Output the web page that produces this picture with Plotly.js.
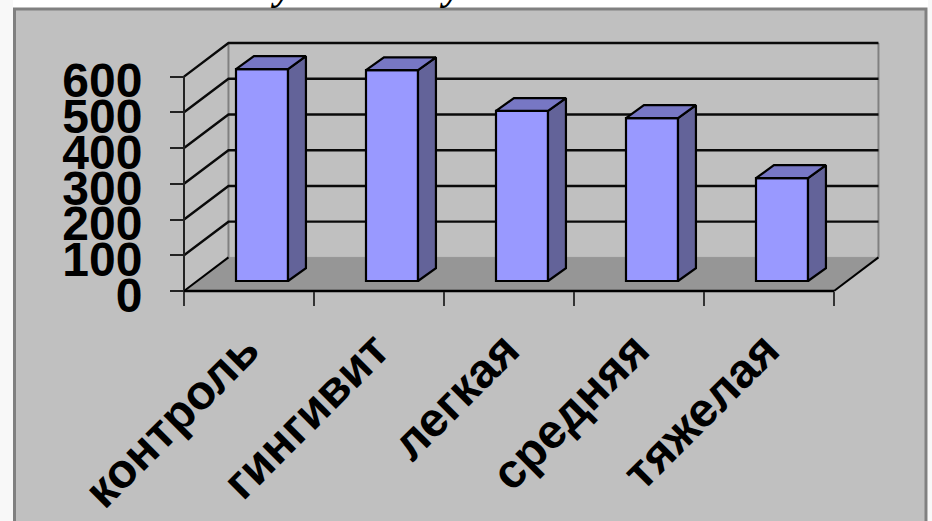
<!DOCTYPE html>
<html>
<head>
<meta charset="utf-8">
<script src="https://cdn.plot.ly/plotly-3.0.1.min.js"></script>
<style>html,body{margin:0;padding:0;background:#fff;overflow:hidden}#chart{width:932px;height:521px}</style>
</head>
<body>
<div id="chart"></div>
<script>
// Chart values
var categories = ['контроль', 'гингивит', 'легкая', 'средняя', 'тяжелая'];
var values = [593, 590, 476, 456, 288];
var yTicks = [0, 100, 200, 300, 400, 500, 600];

// Pseudo-3D projection, in axis units
var wallDx = 0.342, wallDy = 94;     // depth of the floor and walls
var barBaseDx = 0.1, barBaseDy = 28; // front of each column inside the floor
var barDx = 0.138, barDy = 36;       // depth of each column
var barWidth = 0.4;
var xMin = -0.5, xMax = 4.5, yMax = 600;

// Axis ranges leave room for the receding walls and a small pad around the axis lines
var xRange = [-0.5308, 4.8846];
var yRange = [-11.2, 708];

var W = 932, H = 521;
var m = {l: 180, r: 48, t: 38, b: 226};
function paperX(px) { return (px - m.l) / (W - m.l - m.r); }
function paperY(py) { return 1 - (py - m.t) / (H - m.t - m.b); }

function poly(xs, ys, fill, line, lw, overlay) {
  var t = {
    type: 'scatter', mode: lw ? 'lines' : 'none', x: xs, y: ys,
    hoverinfo: 'skip', showlegend: false,
    line: {color: line || '#000', width: lw || 0}
  };
  if (fill) { t.fill = 'toself'; t.fillcolor = fill; }
  if (overlay) { t.xaxis = 'x2'; t.yaxis = 'y2'; }
  return t;
}

var traces = [];

// Floor, then the wall edges and gridlines behind the columns
traces.push(poly(
  [xMin, xMax, xMax + wallDx, xMin + wallDx, xMin],
  [0, 0, wallDy, wallDy, 0], '#969696', '#969696', 1));
traces.push(poly([xMin + wallDx, xMin + wallDx], [wallDy, yMax + wallDy], null, '#808080', 2));
traces.push(poly([xMax + wallDx, xMax + wallDx], [wallDy, yMax + wallDy], null, '#808080', 2));
yTicks.forEach(function (v) {
  if (v === 0) {
    traces.push(poly([xMin, xMin + wallDx], [0, wallDy], null, '#000', 2));
    traces.push(poly([xMax, xMax + wallDx], [0, wallDy], null, '#000', 2));
  } else {
    traces.push(poly(
      [xMin, xMin + wallDx, xMax + wallDx],
      [v, v + wallDy, v + wallDy], null, '#0a0a0a', 2.4));
  }
});
// Front edges of the left wall and the floor
traces.push(poly([xMin, xMin], [0, yMax], null, '#222', 2));
traces.push(poly([xMin, xMax], [0, 0], null, '#000', 2.4));

// Column front faces
traces.push({
  type: 'bar', x: categories.map(function (_, i) { return i + barBaseDx; }),
  y: values, base: barBaseDy, width: barWidth,
  marker: {color: '#9999ff', line: {color: '#000', width: 2.2}},
  hoverinfo: 'skip', showlegend: false,
  xaxis: 'x2', yaxis: 'y2'
});

// Column side and top faces
values.forEach(function (v, i) {
  var xl = i + barBaseDx - barWidth / 2, xr = i + barBaseDx + barWidth / 2;
  var yb = barBaseDy, yt = barBaseDy + v;
  traces.push(poly(
    [xr, xr + barDx, xr + barDx, xr, xr],
    [yb, yb + barDy, yt + barDy, yt, yb], '#636399', '#000', 2.2, true));
  traces.push(poly(
    [xl, xl + barDx, xr + barDx, xr, xl],
    [yt, yt + barDy, yt + barDy, yt, yt], '#7777c4', '#000', 2.2, true));
});

var boundaries = categories.map(function (_, i) { return i - 0.5; }).concat([xMax]);

var layout = {
  width: W, height: H, margin: m, showlegend: false, bargap: 0,
  paper_bgcolor: '#ffffff', plot_bgcolor: 'rgba(0,0,0,0)',
  font: {family: '"Liberation Sans", Arial, sans-serif', color: '#000'},
  xaxis: {
    type: 'linear', range: xRange, tickmode: 'array', tickvals: boundaries,
    ticktext: boundaries.map(function () { return ''; }),
    anchor: 'free', position: paperY(291),
    ticks: 'outside', ticklen: 14, tickwidth: 2, tickcolor: '#333',
    showgrid: false, zeroline: false, showline: false
  },
  yaxis: {
    range: yRange, tickmode: 'array', tickvals: yTicks,
    anchor: 'free', position: paperX(184),
    ticks: 'outside', ticklen: 14, tickwidth: 2, tickcolor: '#222',
    ticklabelstandoff: 18, ticklabelshift: 4,
    tickfont: {size: 48, family: '"Liberation Sans", Arial, sans-serif', weight: 700},
    showgrid: false, zeroline: false, showline: false
  },
  xaxis2: {
    type: 'linear', overlaying: 'x', anchor: 'y2', side: 'bottom', range: xRange,
    tickmode: 'array', tickvals: categories.map(function (_, i) { return i; }), ticktext: categories,
    tickangle: -45, ticks: '', ticklabelstandoff: 16, ticklabelshift: -4,
    tickfont: {size: 48, family: '"Liberation Sans", Arial, sans-serif', weight: 700},
    showgrid: false, zeroline: false, showline: false
  },
  yaxis2: {overlaying: 'y', range: yRange, visible: false},
  shapes: [{
    type: 'rect', layer: 'below', xref: 'paper', yref: 'paper',
    x0: paperX(14.5), x1: paperX(926), y0: paperY(540), y1: paperY(9),
    fillcolor: '#c0c0c0', line: {color: '#808080', width: 3}
  }, {
    type: 'rect', layer: 'below', xref: 'paper', yref: 'paper',
    x0: paperX(0), x1: paperX(13), y0: paperY(521), y1: paperY(0),
    fillcolor: '#f8f8f8', line: {width: 0}
  }, {
    type: 'rect', layer: 'below', xref: 'paper', yref: 'paper',
    x0: paperX(928), x1: paperX(932), y0: paperY(521), y1: paperY(0),
    fillcolor: '#f8f8f8', line: {width: 0}
  }],
  annotations: [282, 451].map(function (px) {
    return {
      text: 'у', xref: 'paper', yref: 'paper', x: paperX(px), y: paperY(10),
      xanchor: 'center', yanchor: 'bottom', showarrow: false,
      font: {family: '"Liberation Serif", serif', size: 40, weight: 700, style: 'italic', color: '#000'}
    };
  })
};

Plotly.newPlot('chart', traces, layout, {displayModeBar: false, staticPlot: true});
</script>
</body>
</html>
